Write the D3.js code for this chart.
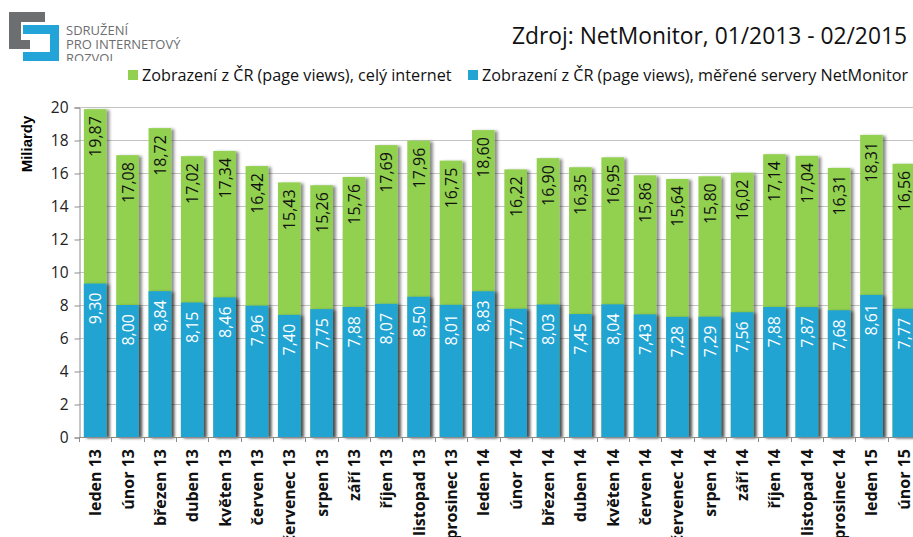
<!DOCTYPE html>
<html>
<head>
<meta charset="utf-8">
<script src="https://cdn.jsdelivr.net/npm/d3@7"></script>
<style>
  body { margin: 0; background: #fff; overflow: hidden; }
  text { font-family: "Open Sans", sans-serif; }
</style>
</head>
<body>
<div id="chart"></div>
<script>
const months = ['leden 13', 'únor 13', 'březen 13', 'duben 13', 'květen 13', 'červen 13',
    'červenec 13', 'srpen 13', 'září 13', 'říjen 13', 'listopad 13', 'prosinec 13',
    'leden 14', 'únor 14', 'březen 14', 'duben 14', 'květen 14', 'červen 14',
    'červenec 14', 'srpen 14', 'září 14', 'říjen 14', 'listopad 14', 'prosinec 14',
    'leden 15', 'únor 15'];
const wholeInternet = [19.87, 17.08, 18.72, 17.02, 17.34, 16.42, 15.43, 15.26, 15.76, 17.69, 17.96, 16.75,
    18.60, 16.22, 16.90, 16.35, 16.95, 15.86, 15.64, 15.80, 16.02, 17.14, 17.04, 16.31,
    18.31, 16.56];
const netMonitor = [9.30, 8.00, 8.84, 8.15, 8.46, 7.96, 7.40, 7.75, 7.88, 8.07, 8.50, 8.01,
    8.83, 7.77, 8.03, 7.45, 8.04, 7.43, 7.28, 7.29, 7.56, 7.88, 7.87, 7.68,
    8.61, 7.77];
const yTicks = [0, 2, 4, 6, 8, 10, 12, 14, 16, 18, 20];
const seriesNames = ['Zobrazení z ČR (page views), celý internet',
    'Zobrazení z ČR (page views), měřené servery NetMonitor'];

const green = '#92d050';
const blue = '#23a4d3';

const width = 913, height = 537;
const plot = {left: 79, right: 920, top: 107, bottom: 437};

const svg = d3.select('#chart')
    .append('svg')
    .attr('width', width)
    .attr('height', height);

// shadow behind the bars
const defs = svg.append('defs');
defs.append('filter')
    .attr('id', 'shadow')
    .attr('x', '-20%').attr('width', '160%')
    .append('feDropShadow')
    .attr('dx', 3).attr('dy', 1)
    .attr('stdDeviation', 1.6)
    .attr('flood-color', '#000')
    .attr('flood-opacity', 0.45);

defs.append('clipPath')
    .attr('id', 'logo-clip')
    .append('rect')
    .attr('x', 0).attr('y', 0)
    .attr('width', 200).attr('height', 61);

const xScale = d3.scaleBand()
    .domain(months)
    .range([plot.left, plot.right])
    .paddingInner(0.3)
    .paddingOuter(0.15);

const yScale = d3.scaleLinear()
    .domain([0, 20])
    .range([plot.bottom, plot.top]);

// gridlines
svg.append('g')
    .selectAll('line')
    .data(yTicks.slice(1))
    .join('line')
    .attr('x1', plot.left)
    .attr('x2', width)
    .attr('y1', d => yScale(d) + 0.5)
    .attr('y2', d => yScale(d) + 0.5)
    .attr('stroke', '#c4c4c4');

// y axis
const yAxis = d3.axisLeft(yScale)
    .tickValues(yTicks)
    .tickSize(5)
    .tickPadding(6);

svg.append('g')
    .attr('class', 'axis y-axis')
    .attr('transform', 'translate(' + (plot.left + 0.5) + ',0.5)')
    .call(yAxis)
    .call(g => g.select('.domain').attr('stroke', '#8c8c8c'))
    .call(g => g.selectAll('.tick line').attr('stroke', '#8c8c8c'))
    .call(g => g.selectAll('text')
        .attr('font-size', 15.5)
        .attr('fill', '#222')
        .style('font-family', '"Open Sans", sans-serif'));

svg.append('text')
    .attr('transform', 'translate(32,144) rotate(-90)')
    .attr('text-anchor', 'middle')
    .attr('font-size', 15)
    .attr('font-weight', 'bold')
    .style('font-family', '"Liberation Sans", Arial, sans-serif')
    .text('Miliardy');

// bars: total in back, measured in front
const bars = svg.append('g');

bars.selectAll('.bar-total')
    .data(wholeInternet)
    .join('rect')
    .attr('class', 'bar-total')
    .attr('x', (d, i) => xScale(months[i]))
    .attr('width', xScale.bandwidth())
    .attr('y', d => yScale(d))
    .attr('height', d => yScale(0) - yScale(d))
    .attr('fill', green)
    .attr('filter', 'url(#shadow)');

bars.selectAll('.bar-nm')
    .data(netMonitor)
    .join('rect')
    .attr('class', 'bar-nm')
    .attr('x', (d, i) => xScale(months[i]))
    .attr('width', xScale.bandwidth())
    .attr('y', d => yScale(d))
    .attr('height', d => yScale(0) - yScale(d))
    .attr('fill', blue)
    .attr('filter', 'url(#shadow)');

const fmt = d => d.toFixed(2).replace('.', ',');

bars.selectAll('.lbl-total')
    .data(wholeInternet)
    .join('text')
    .attr('class', 'lbl-total')
    .attr('transform', (d, i) => 'translate(' + (xScale(months[i]) + xScale.bandwidth() / 2 + 6) + ',' + (yScale(d) + 7) + ') rotate(-90)')
    .attr('text-anchor', 'end')
    .attr('font-size', 16)
    .attr('fill', '#111')
    .text(fmt);

bars.selectAll('.lbl-nm')
    .data(netMonitor)
    .join('text')
    .attr('class', 'lbl-nm')
    .attr('transform', (d, i) => 'translate(' + (xScale(months[i]) + xScale.bandwidth() / 2 + 6) + ',' + (yScale(d) + 9) + ') rotate(-90)')
    .attr('text-anchor', 'end')
    .attr('font-size', 16)
    .attr('fill', '#fff')
    .text(fmt);

// x axis with ticks between categories
const xAxisG = svg.append('g')
    .attr('class', 'axis x-axis');

xAxisG.append('line')
    .attr('x1', plot.left)
    .attr('x2', width)
    .attr('y1', plot.bottom + 0.5)
    .attr('y2', plot.bottom + 0.5)
    .attr('stroke', '#8c8c8c');

xAxisG.selectAll('.sep')
    .data(months)
    .join('line')
    .attr('class', 'sep')
    .attr('x1', (d, i) => Math.round(plot.left + i * xScale.step()) + 0.5)
    .attr('x2', (d, i) => Math.round(plot.left + i * xScale.step()) + 0.5)
    .attr('y1', plot.bottom)
    .attr('y2', plot.bottom + 5)
    .attr('stroke', '#8c8c8c');

xAxisG.selectAll('.xlbl')
    .data(months)
    .join('text')
    .attr('class', 'xlbl')
    .attr('transform', d => 'translate(' + (xScale(d) + xScale.bandwidth() / 2 + 6) + ',' + (plot.bottom + 12) + ') rotate(-90)')
    .attr('text-anchor', 'end')
    .attr('font-size', 16)
    .attr('font-weight', 'bold')
    .attr('fill', '#111')
    .text(d => d);

// title
svg.append('text')
    .attr('x', 907)
    .attr('y', 44)
    .attr('text-anchor', 'end')
    .attr('font-size', 22.8)
    .attr('fill', '#111')
    .text('Zdroj: NetMonitor, 01/2013 - 02/2015');

// legend
const legend = svg.append('g');
const legendItems = [
    {name: seriesNames[0], color: green, x: 128},
    {name: seriesNames[1], color: blue, x: 468}
];
legend.selectAll('rect')
    .data(legendItems)
    .join('rect')
    .attr('x', d => d.x)
    .attr('y', 70)
    .attr('width', 10)
    .attr('height', 10)
    .attr('fill', d => d.color);
legend.selectAll('text')
    .data(legendItems)
    .join('text')
    .attr('x', d => d.x + 14)
    .attr('y', 81)
    .attr('font-size', 16.2)
    .attr('fill', '#111')
    .text(d => d.name);

// logo
const logo = svg.append('g')
    .attr('clip-path', 'url(#logo-clip)');
logo.append('path')
    .attr('d', 'M9,12 H45 V22 H21 V40 H30 V49 H9 Z')
    .attr('fill', '#6d6e70');
logo.append('path')
    .attr('d', 'M23,25 H59 V62 H23 V52 H50 V34 H23 Z')
    .attr('fill', '#23a4d9');
const logoText = ['SDRUŽENÍ', 'PRO INTERNETOVÝ', 'ROZVOJ'];
logo.append('text')
    .attr('font-size', 13)
    .attr('fill', '#6d6e70')
    .selectAll('tspan')
    .data(logoText)
    .join('tspan')
    .attr('x', 66)
    .attr('y', (d, i) => 35 + i * 14)
    .text(d => d);
</script>
</body>
</html>
